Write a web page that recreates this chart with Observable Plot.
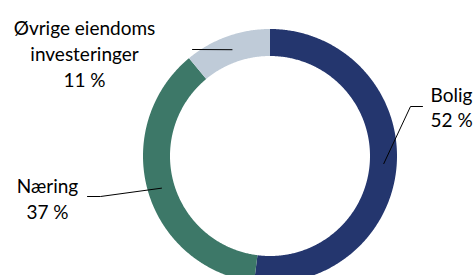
<!DOCTYPE html>
<html><head><meta charset="utf-8">
<script src="https://cdn.jsdelivr.net/npm/d3@7"></script>
<script src="https://cdn.jsdelivr.net/npm/@observablehq/plot@0.6"></script>
<style>body{margin:0;background:#fff;overflow:hidden}</style>
</head><body><div id="chart"></div>
<script>
// ---- data ----
const categories = ["Bolig", "Næring", "Øvrige eiendoms investeringer"];
const labelTexts = ["Bolig\n52 %", "Næring\n37 %", "Øvrige eiendoms\ninvesteringer\n11 %"];
const values = [52, 37, 11];
const colors = ["#24366e", "#3d7868", "#bfcbd8"];

// ---- layout (pixels) ----
const W = 476, H = 275, cx = 270, cy = 156, R = 127, r = 100;
// label block position, anchor, and leader elbow points (pixels)
const labelLayout = [
  {x: 430, y: 106, anchor: "start", elbow: [[422, 106], [410, 106]]},
  {x: 47, y: 197, anchor: "middle", elbow: [[87, 196], [100, 196]]},
  {x: 84, y: 52, anchor: "middle", elbow: [[192, 49]]}
];

const total = d3.sum(values);
const toX = px => px - cx, toY = py => cy - py;

// ring segments
const ring = [];
const mids = [];
let acc = 0;
values.forEach((v, i) => {
  const a0 = acc / total * 2 * Math.PI;
  acc += v;
  const a1 = acc / total * 2 * Math.PI;
  mids.push((a0 + a1) / 2);
  const n = Math.max(2, Math.ceil((a1 - a0) / (Math.PI / 360)));
  for (let k = 0; k <= n; k++) {
    const a = a0 + (a1 - a0) * k / n;
    ring.push({cat: categories[i], xo: R * Math.sin(a), yo: R * Math.cos(a), xi: r * Math.sin(a), yi: r * Math.cos(a)});
  }
});

// leader lines
const leaders = [];
labelLayout.forEach((L, i) => {
  L.elbow.forEach(([px, py]) => leaders.push({cat: categories[i], x: toX(px), y: toY(py)}));
  const rm = (R + r) / 2;
  leaders.push({cat: categories[i], x: rm * Math.sin(mids[i]), y: rm * Math.cos(mids[i])});
});

const labels = labelLayout.map((L, i) => ({cat: categories[i], text: labelTexts[i], x: toX(L.x), y: toY(L.y), anchor: L.anchor}));

const chart = Plot.plot({
  width: W, height: H,
  margin: 0,
  x: {domain: [-cx, W - cx], axis: null},
  y: {domain: [cy - H, cy], axis: null},
  color: {domain: categories, range: colors},
  style: {fontFamily: "Lato, sans-serif", background: "#fff"},
  marks: [
    Plot.area(ring, {x1: "xo", y1: "yo", x2: "xi", y2: "yi", z: "cat", fill: "cat", curve: "linear"}),
    Plot.line(leaders, {x: "x", y: "y", z: "cat", stroke: "#000", strokeWidth: 1}),
    Plot.text(labels.filter(d => d.anchor === "start"), {x: "x", y: "y", text: "text", textAnchor: "start", lineAnchor: "middle", lineHeight: 1.3, fontSize: 19, fill: "#000"}),
    Plot.text(labels.filter(d => d.anchor === "middle"), {x: "x", y: "y", text: "text", textAnchor: "middle", lineAnchor: "middle", lineHeight: 1.38, fontSize: 19, fill: "#000"})
  ]
});
document.getElementById("chart").appendChild(chart);
</script>
</body></html>
